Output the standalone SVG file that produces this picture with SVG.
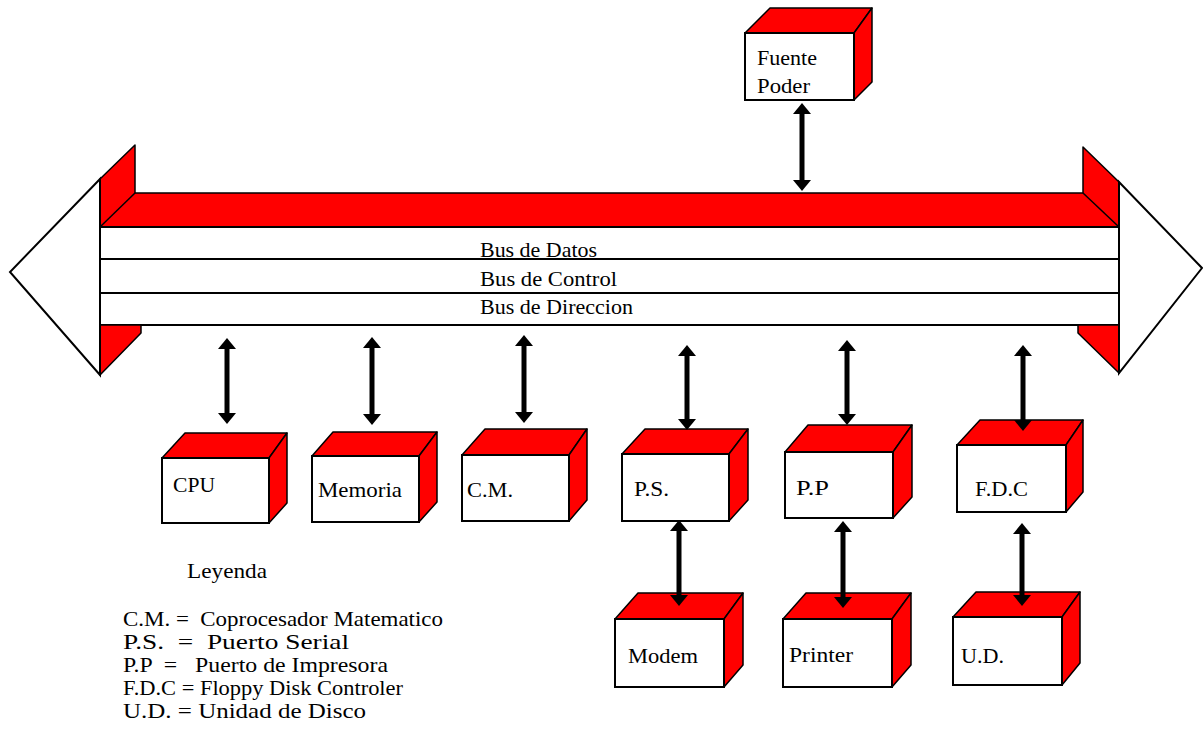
<svg xmlns="http://www.w3.org/2000/svg" width="1203" height="741" viewBox="0 0 1203 741" font-family="Liberation Serif, DejaVu Serif, serif">
<style>
text{font-family:'Liberation Serif','DejaVu Serif',serif;font-size:21px;fill:#000;white-space:pre}
.red{fill:#ff0000;stroke:#000;stroke-width:1.5;stroke-linejoin:round}
.wh{fill:#fff;stroke:#000;stroke-width:2}
.ln{stroke:#000;stroke-width:2;fill:none}
.arr{stroke:#000;stroke-width:5;marker-start:url(#ah);marker-end:url(#ah)}
</style>
<defs>
<marker id="ah" viewBox="0 0 11 18" refX="1" refY="9" markerWidth="11" markerHeight="18" orient="auto-start-reverse" markerUnits="userSpaceOnUse">
<path d="M0,0 L11,9 L0,18 z" fill="#000"/>
</marker>
</defs>
<rect width="1203" height="741" fill="#fff"/>

<g id="bus">
<polygon class="wh" points="100,179 10,272 100,375"/>
<polygon class="wh" points="1119,182 1202,268 1119,373"/>
<polygon class="red" points="100,227 100,179 135,145 135,193 1083,193 1083,147 1119,182 1119,227"/>
<line class="ln" x1="100" y1="227" x2="135" y2="193" style="stroke-width:1.5"/>
<line class="ln" x1="1083" y1="193" x2="1119" y2="227" style="stroke-width:1.5"/>
<rect x="100" y="227" width="1019" height="98" fill="#fff"/>
<line class="ln" x1="100" y1="227" x2="1119" y2="227"/>
<line class="ln" x1="100" y1="259" x2="1119" y2="259"/>
<line class="ln" x1="100" y1="293" x2="1119" y2="293"/>
<line class="ln" x1="100" y1="325" x2="1119" y2="325"/>
<polygon class="red" points="100,325 141,325 141,333 100,375"/>
<polygon class="red" points="1078,325 1119,325 1119,373 1078,333"/>
<line class="ln" x1="100" y1="179" x2="100" y2="375"/>
<line class="ln" x1="1119" y1="182" x2="1119" y2="373"/>
<text x="480" y="257" textLength="117" lengthAdjust="spacingAndGlyphs">Bus de Datos</text>
<text x="480" y="286" textLength="137" lengthAdjust="spacingAndGlyphs">Bus de Control</text>
<text x="480" y="314" textLength="153" lengthAdjust="spacingAndGlyphs">Bus de Direccion</text>
</g>

<g id="fuente">
<polygon class="red" points="745,33 770,8 872,8 854,33"/>
<polygon class="red" points="854,33 872,8 872,82 854,100"/>
<rect class="wh" x="745" y="33" width="109" height="67"/>
<text x="757" y="65" textLength="60" lengthAdjust="spacingAndGlyphs">Fuente</text>
<text x="757" y="93" textLength="53" lengthAdjust="spacingAndGlyphs">Poder</text>
</g>

<g id="cpu">
<polygon class="red" points="162,458 185,433 287,433 269,458"/>
<polygon class="red" points="269,458 287,433 287,503 269,523"/>
<rect class="wh" x="162" y="458" width="107" height="65"/>
<text x="173" y="492" textLength="42" lengthAdjust="spacingAndGlyphs">CPU</text>
</g>

<g id="memoria">
<polygon class="red" points="312,456 333,432 437,432 419,456"/>
<polygon class="red" points="419,456 437,432 437,502 419,522"/>
<rect class="wh" x="312" y="456" width="107" height="66"/>
<text x="318" y="497" textLength="84" lengthAdjust="spacingAndGlyphs">Memoria</text>
</g>

<g id="cm">
<polygon class="red" points="462,455 485,429 587,429 569,455"/>
<polygon class="red" points="569,455 587,429 587,500 569,521"/>
<rect class="wh" x="462" y="455" width="107" height="66"/>
<text x="467" y="497" textLength="46" lengthAdjust="spacingAndGlyphs">C.M.</text>
</g>

<g id="ps">
<polygon class="red" points="622,454 645,429 748,429 729,454"/>
<polygon class="red" points="729,454 748,429 748,500 729,521"/>
<rect class="wh" x="622" y="454" width="107" height="67"/>
<text x="634" y="496" textLength="35" lengthAdjust="spacingAndGlyphs">P.S.</text>
</g>

<g id="pp">
<polygon class="red" points="785,452 808,425 912,425 893,452"/>
<polygon class="red" points="893,452 912,425 912,497 893,518"/>
<rect class="wh" x="785" y="452" width="108" height="66"/>
<text x="796" y="495" textLength="33" lengthAdjust="spacingAndGlyphs">P.P</text>
</g>

<g id="fdc">
<polygon class="red" points="957,445 980,420 1083,420 1066,445"/>
<polygon class="red" points="1066,445 1083,420 1083,492 1066,512"/>
<rect class="wh" x="957" y="445" width="109" height="67"/>
<text x="975" y="496" textLength="53" lengthAdjust="spacingAndGlyphs">F.D.C</text>
</g>

<g id="modem">
<polygon class="red" points="615,619 638,593 743,593 724,619"/>
<polygon class="red" points="724,619 743,593 743,665 724,687"/>
<rect class="wh" x="615" y="619" width="109" height="68"/>
<text x="628" y="663" textLength="70" lengthAdjust="spacingAndGlyphs">Modem</text>
</g>

<g id="printer">
<polygon class="red" points="783,619 806,593 911,593 892,619"/>
<polygon class="red" points="892,619 911,593 911,665 892,687"/>
<rect class="wh" x="783" y="619" width="109" height="68"/>
<text x="789" y="662" textLength="64" lengthAdjust="spacingAndGlyphs">Printer</text>
</g>

<g id="ud">
<polygon class="red" points="953,617 976,592 1080,592 1062,617"/>
<polygon class="red" points="1062,617 1080,592 1080,663 1062,685"/>
<rect class="wh" x="953" y="617" width="109" height="68"/>
<text x="961" y="663" textLength="43" lengthAdjust="spacingAndGlyphs">U.D.</text>
</g>

<g id="connectors">
<line class="arr" x1="802" y1="113" x2="802" y2="181"/>
<line class="arr" x1="227" y1="348" x2="227" y2="414"/>
<line class="arr" x1="372" y1="347" x2="372" y2="415"/>
<line class="arr" x1="524" y1="345" x2="524" y2="413"/>
<line class="arr" x1="687" y1="355" x2="687" y2="420"/>
<line class="arr" x1="847" y1="350" x2="847" y2="415"/>
<line class="arr" x1="1023" y1="355" x2="1023" y2="421"/>
<line class="arr" x1="679" y1="530" x2="679" y2="596"/>
<line class="arr" x1="843" y1="531" x2="843" y2="598"/>
<line class="arr" x1="1022" y1="533" x2="1022" y2="596"/>
</g>

<g id="legend">
<text x="187" y="578" textLength="80" lengthAdjust="spacingAndGlyphs">Leyenda</text>
<text x="123" y="626" textLength="320" lengthAdjust="spacingAndGlyphs">C.M. =  Coprocesador Matematico</text>
<text x="123" y="649" textLength="226" lengthAdjust="spacingAndGlyphs">P.S.  =  Puerto Serial</text>
<text x="123" y="672" textLength="265" lengthAdjust="spacingAndGlyphs">P.P  =   Puerto de Impresora</text>
<text x="123" y="695" textLength="280" lengthAdjust="spacingAndGlyphs">F.D.C = Floppy Disk Controler</text>
<text x="123" y="718" textLength="243" lengthAdjust="spacingAndGlyphs">U.D. = Unidad de Disco</text>
</g>
</svg>
